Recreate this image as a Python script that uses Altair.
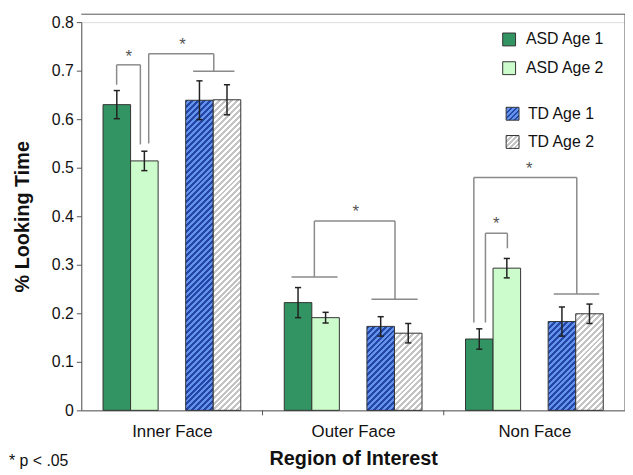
import altair as alt
import pandas as pd

# ---------------- data ----------------
regions = ["Inner Face", "Outer Face", "Non Face"]
groups = ["ASD Age 1", "ASD Age 2", "TD Age 1", "TD Age 2"]

asd1 = [0.630, 0.222, 0.147]
asd1_err = [0.029, 0.031, 0.021]
asd2 = [0.514, 0.191, 0.293]
asd2_err = [0.020, 0.011, 0.020]
td1 = [0.639, 0.173, 0.183]
td1_err = [0.040, 0.020, 0.030]
td2 = [0.640, 0.159, 0.199]
td2_err = [0.031, 0.020, 0.020]

y_ticks = [0, 0.1, 0.2, 0.3, 0.4, 0.5, 0.6, 0.7, 0.8]

# significance brackets (x in category units, y in data units)
bracket_x1 = [0.195, 0.195, 0.326, 0.372, 0.372, 0.731, 0.617,
              1.160, 1.286, 1.286, 1.731, 1.601,
              2.166, 2.166, 2.734, 2.607, 2.230, 2.230, 2.351]
bracket_x2 = [0.195, 0.326, 0.326, 0.372, 0.731, 0.731, 0.845,
              1.414, 1.286, 1.731, 1.731, 1.856,
              2.166, 2.734, 2.734, 2.858, 2.230, 2.351, 2.351]
bracket_y1 = [0.671, 0.712, 0.712, 0.550, 0.735, 0.735, 0.699,
              0.275, 0.275, 0.390, 0.390, 0.229,
              0.181, 0.480, 0.480, 0.240, 0.181, 0.365, 0.365]
bracket_y2 = [0.712, 0.712, 0.548, 0.735, 0.735, 0.699, 0.699,
              0.275, 0.390, 0.390, 0.229, 0.229,
              0.480, 0.480, 0.240, 0.240, 0.365, 0.365, 0.334]
star_x = [0.262, 0.559, 1.515, 2.472, 2.290]
star_y = [0.737, 0.761, 0.416, 0.506, 0.392]

footnote = "* p < .05"

# ---------------- layout / style ----------------
W, H = 549, 392
Y_MAX = 0.8
MARGIN = 0.12
SLOT = 0.152
slot_of = [0, 1, 3, 4]
CAP = 0.017
FONT = "Liberation Sans"
EDGE = "#333333"
colors = {"ASD Age 1": "#339463", "ASD Age 2": "#ccfccc"}
hatch_cols = {"TD Age 1": ("#2446a8", "#6393ea"), "TD Age 2": ("#c4c4c4", "#ffffff")}

values = [asd1, asd2, td1, td2]
errors = [asd1_err, asd2_err, td1_err, td2_err]
rows = []
for ri, reg in enumerate(regions):
    for gi, grp in enumerate(groups):
        x0 = ri + MARGIN + slot_of[gi] * SLOT
        v = values[gi][ri]
        e = errors[gi][ri]
        xc = x0 + SLOT / 2
        rows.append(dict(region=reg, group=grp, x0=x0, x1=x0 + SLOT, xc=xc,
                         cl=xc - CAP, cr=xc + CAP, v=v, lo=v - e, hi=v + e))
df = pd.DataFrame(rows)

br = pd.DataFrame(dict(x1=bracket_x1, x2=bracket_x2, y1=bracket_y1, y2=bracket_y2))
stars = pd.DataFrame(dict(x=star_x, y=star_y, t=["*"] * len(star_x)))
cat_ticks = pd.DataFrame(dict(x=list(range(1, len(regions)))))


def hatch(w, h, c1, c2, period=6.0):
    k = (w + h) / (w * w + h * h)
    total = w + h
    stops = []
    pos = 0.0
    while pos < total:
        a = round(pos / total, 5)
        m = round(min((pos + period / 2) / total, 1.0), 5)
        b = round(min((pos + period) / total, 1.0), 5)
        stops += [{"offset": a, "color": c1}, {"offset": m, "color": c1},
                  {"offset": m, "color": c2}, {"offset": b, "color": c2}]
        pos += period
    return {"gradient": "linear", "x1": 0, "y1": 0, "x2": k * w, "y2": k * h,
            "stops": stops}


x_scale = alt.Scale(domain=[0, len(regions)], nice=False, zero=False)
y_scale = alt.Scale(domain=[0, Y_MAX], nice=False, zero=True)
label_list = "[" + ",".join("'" + r + "'" for r in regions) + "]"
x_axis = alt.Axis(values=[i + 0.5 for i in range(len(regions))],
                  labelExpr=label_list + "[floor(datum.value)]",
                  ticks=False, tickSize=0, grid=False, domainColor="#555555",
                  labelFontSize=17, labelPadding=13, labelColor="#111111",
                  title="Region of Interest", titleFontSize=20,
                  titleFontWeight="bold", titlePadding=10, titleColor="#111111")
y_axis = alt.Axis(values=y_ticks,
                  labelExpr="datum.value == 0 ? '0' : format(datum.value, '.1f')",
                  tickSize=5, tickColor="#555555", domainColor="#555555", grid=False,
                  labelFontSize=16, labelPadding=3, labelColor="#111111",
                  title="% Looking Time", titleFontSize=20, titleFontWeight="bold",
                  titlePadding=19, titleColor="#111111")

X = lambda f: alt.X(f, type="quantitative", scale=x_scale, axis=x_axis)
Y = lambda f: alt.Y(f, type="quantitative", scale=y_scale, axis=y_axis)

layers = []

# solid ASD bars
solid = alt.Chart(df).transform_filter(
    alt.FieldOneOfPredicate(field="group", oneOf=groups[:2])
).mark_rect(stroke=EDGE, strokeWidth=1).encode(
    x=X("x0"), x2="x1", y=Y("v"), y2=alt.datum(0),
    fill=alt.Fill("group:N", scale=alt.Scale(domain=groups[:2],
                                              range=[colors[g] for g in groups[:2]]),
                  legend=None),
)
layers.append(solid)

# hatched TD bars (one layer per bar, gradient sized to the bar)
bar_w = SLOT * W / len(regions)
for idx, r in df.iterrows():
    if r["group"] not in hatch_cols:
        continue
    c1, c2 = hatch_cols[r["group"]]
    h = r["v"] * H / Y_MAX
    lay = alt.Chart(df.iloc[[idx]]).mark_rect(
        fill=hatch(bar_w, h, c1, c2), stroke=EDGE, strokeWidth=1
    ).encode(x=X("x0"), x2="x1", y=Y("v"), y2=alt.datum(0))
    layers.append(lay)

# error bars
err = alt.Chart(df).mark_rule(color="#222222", strokeWidth=1.5).encode(
    x=X("xc"), y=Y("lo"), y2="hi")
cap_hi = alt.Chart(df).mark_rule(color="#222222", strokeWidth=1.5).encode(
    x=X("cl"), x2="cr", y=Y("hi"))
cap_lo = alt.Chart(df).mark_rule(color="#222222", strokeWidth=1.5).encode(
    x=X("cl"), x2="cr", y=Y("lo"))
layers += [err, cap_hi, cap_lo]

# brackets and stars
brk = alt.Chart(br).mark_rule(color="#8a8a8a", strokeWidth=1.5).encode(
    x=X("x1"), x2="x2", y=Y("y1"), y2="y2")
st = alt.Chart(stars).mark_text(fontSize=17, color="#555555", baseline="alphabetic",
                                dy=9, font=FONT).encode(
    x=X("x"), y=Y("y"), text="t:N")
layers += [brk, st]

# category separator ticks on the x axis
ct = alt.Chart(cat_ticks).mark_rule(color="#555555", strokeWidth=1).encode(
    x=X("x"), y=alt.value(H), y2=alt.value(H + 5))
layers.append(ct)

# frame lines (top and right)
one = alt.Data(values=[{"a": 1}])
top_line = alt.Chart(one).mark_rule(color="#555555", strokeWidth=1).encode(
    x=alt.value(0), x2=alt.value(W), y=alt.value(-8))
right_line = alt.Chart(one).mark_rule(color="#555555", strokeWidth=1).encode(
    x=alt.value(W), y=alt.value(-8), y2=alt.value(H))
layers += [top_line, right_line]

# manual legend
leg_pos = [(432, 17.5, 449), (432, 46.5, 449), (435.5, 92.5, 451), (435.5, 121, 451)]
SQ = 6.5
for grp, (sx, sy, tx) in zip(groups, leg_pos):
    if grp in hatch_cols:
        c1, c2 = hatch_cols[grp]
        fill = hatch(2 * SQ, 2 * SQ, c1, c2, period=5.0)
    else:
        fill = colors[grp]
    sq = alt.Chart(one).mark_rect(fill=fill, stroke=EDGE, strokeWidth=1).encode(
        x=alt.value(sx - SQ), x2=alt.value(sx + SQ),
        y=alt.value(sy - SQ), y2=alt.value(sy + SQ))
    tx_l = alt.Chart(one).mark_text(align="left", baseline="middle", fontSize=16,
                                     font=FONT, color="#111111", text=grp).encode(
        x=alt.value(tx), y=alt.value(sy))
    layers += [sq, tx_l]

# footnote
fn = alt.Chart(one).mark_text(align="left", baseline="middle", fontSize=16, font=FONT,
                              color="#111111", text=footnote).encode(
    x=alt.value(-73), y=alt.value(443))
layers.append(fn)

chart = alt.layer(*layers).properties(
    width=W, height=H, autosize="none",
    padding={"left": 74, "top": 12, "right": 0, "bottom": 62},
).configure_view(stroke=None).configure(font=FONT)

chart.save("out.html", embed_options={"renderer": "svg", "actions": False})
